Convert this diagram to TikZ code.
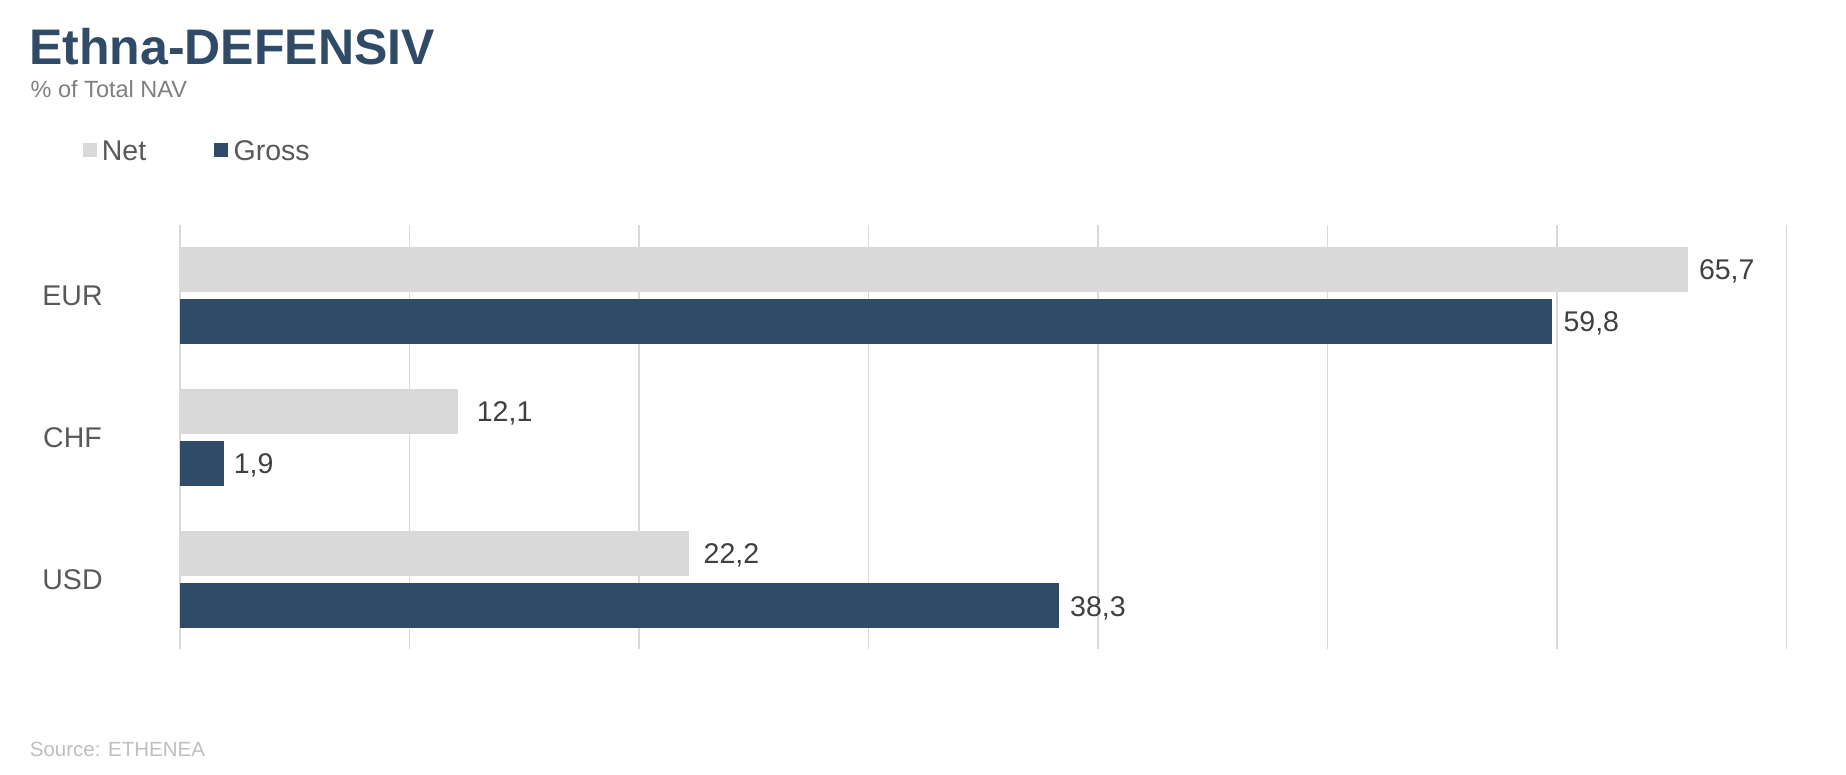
\documentclass[tikz,border=0pt]{standalone}
\usepackage{fontspec}
\setmainfont{Liberation Sans}
\usetikzlibrary{positioning}
\definecolor{ethblue}{RGB}{47,75,104}
\definecolor{ethgrey}{RGB}{217,217,217}
\definecolor{labgrey}{RGB}{89,89,89}
\definecolor{valgrey}{RGB}{64,64,64}
\definecolor{subgrey}{RGB}{127,127,127}
\definecolor{srcgrey}{RGB}{191,191,191}
\tikzset{
	grid/.style={draw=ethgrey, line width=1.8pt},
	netbar/.style={
		rectangle,
		fill=ethgrey,
		anchor=north west,
		inner sep=0pt, outer sep=0pt,
		minimum height=45pt},
	grossbar/.style={
		rectangle,
		fill=ethblue,
		anchor=north west,
		inner sep=0pt, outer sep=0pt,
		minimum height=45pt},
	vallabel/.style={
		inner sep=0pt,
		text=valgrey,
		font=\fontsize{28.5}{30}\selectfont,
		text height=20.4pt, text depth=0pt},
	catlabel/.style={
		inner sep=0pt,
		text=labgrey,
		font=\fontsize{28.5}{30}\selectfont,
		text height=20.4pt, text depth=0pt},
	legkey/.style={
		rectangle,
		inner sep=0pt,
		minimum size=14pt},
}
\begin{document}
\begin{tikzpicture}
	[x=1pt, y=-1pt]
	\useasboundingbox (0,0) rectangle (1846,775);

	% heading
	\node[anchor=base west, inner sep=0pt, text=ethblue,
		font=\fontsize{50}{54}\selectfont\bfseries] (title) at (29,65) {Ethna-DEFENSIV};
	\node[anchor=base west, inner sep=0pt, text=subgrey,
		font=\fontsize{23.5}{26}\selectfont] (subtitle) at (30.5,97.7) {\% of Total NAV};

	% legend
	\node[legkey, fill=ethgrey] (netkey) at (90,150.5) {};
	\node[catlabel, right=4.5pt of netkey] (netlegend) {Net};
	\node[legkey, fill=ethblue] (grosskey) at (221.3,150.5) {};
	\node[catlabel, right=5pt of grosskey] (grosslegend) {Gross};

	% grid lines, one every 10 units
	\draw[grid] (180,225) -- (180,649);
	\draw[grid] (409.5,225) -- (409.5,649);
	\draw[grid] (639,225) -- (639,649);
	\draw[grid] (868.5,225) -- (868.5,649);
	\draw[grid] (1098,225) -- (1098,649);
	\draw[grid] (1327.5,225) -- (1327.5,649);
	\draw[grid] (1557,225) -- (1557,649);
	\draw[grid] (1786.5,225) -- (1786.5,649);

	% categories
	\node[catlabel] (eurlabel) at (72.5,295.3) {EUR};
	\node[catlabel] (chflabel) at (72.5,437.5) {CHF};
	\node[catlabel] (usdlabel) at (72.5,579.7) {USD};

	% bars (22.95pt per unit)
	\node[netbar, minimum width=65.7*22.95pt] (eurnet) at (180,246.7) {};
	\node[grossbar, minimum width=59.8*22.95pt] (eurgross) at (180,298.9) {};
	\node[netbar, minimum width=12.1*22.95pt] (chfnet) at (180,388.9) {};
	\node[grossbar, minimum width=1.9*22.95pt] (chfgross) at (180,441.1) {};
	\node[netbar, minimum width=22.2*22.95pt] (usdnet) at (180,531.1) {};
	\node[grossbar, minimum width=38.3*22.95pt] (usdgross) at (180,583.3) {};

	% values
	\node[vallabel, right=11pt of eurnet] (eurnetval) {65,7};
	\node[vallabel, right=11pt of eurgross] (eurgrossval) {59,8};
	\node[vallabel, right=19pt of chfnet] (chfnetval) {12,1};
	\node[vallabel, right=10pt of chfgross] (chfgrossval) {1,9};
	\node[vallabel, right=14pt of usdnet] (usdnetval) {22,2};
	\node[vallabel, right=11pt of usdgross] (usdgrossval) {38,3};

	\node[anchor=base west, inner sep=0pt, text=srcgrey,
		font=\fontsize{20.5}{22}\selectfont] (source) at (29.7,756.7) {Source: ETHENEA};
\end{tikzpicture}
\end{document}
